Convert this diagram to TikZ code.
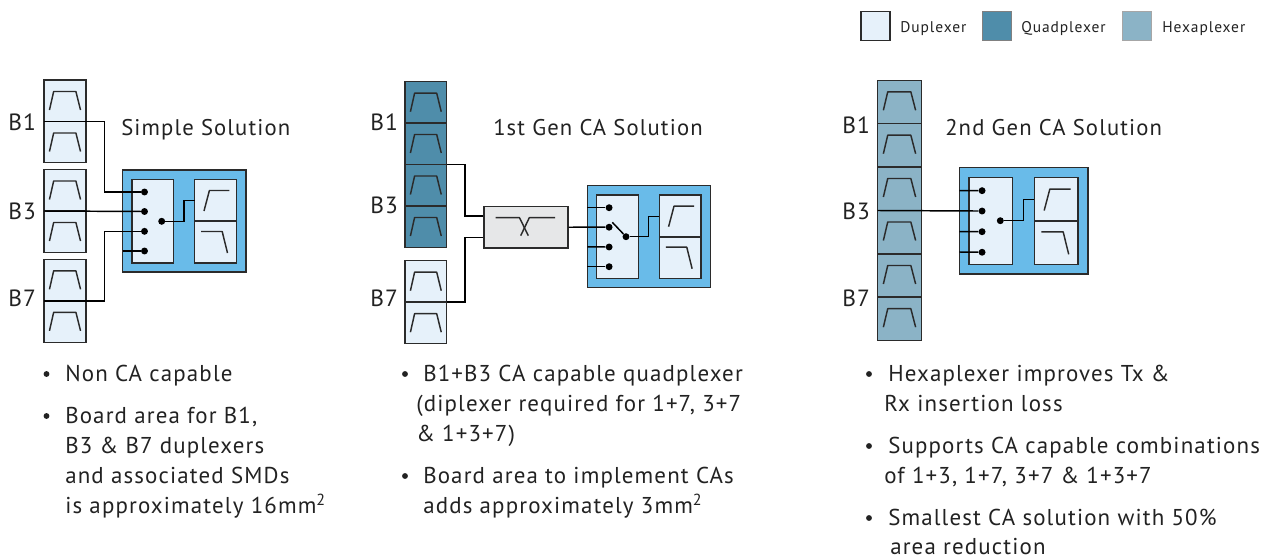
\documentclass[tikz,border=0pt]{standalone}
\usepackage{fontspec}
\setmainfont[LetterSpace=5]{PT Sans}
\newfontfamily\legfont[LetterSpace=6]{PT Sans}
\definecolor{dupfill}{HTML}{E6F1FA}
\definecolor{quadfill}{HTML}{4F8DAA}
\definecolor{hexfill}{HTML}{8BB3C6}
\definecolor{modblue}{HTML}{69BBE9}
\definecolor{dipfill}{HTML}{E6E7E8}
\definecolor{ink}{HTML}{2B2B2B}
\definecolor{txt}{HTML}{222222}
\tikzset{
  boxline/.style={draw=ink,line width=1.1pt},
  wire/.style={draw=black,line width=1.1pt,line join=miter},
  icon/.style={draw=ink,line width=1.1pt,line join=round},
  dotn/.style={circle,fill=black,inner sep=0pt,minimum size=5.2pt},
  lab/.style={anchor=base west,inner sep=0pt,text=txt,font=\fontsize{17.2}{18}\selectfont},
  title/.style={anchor=base west,inner sep=0pt,text=txt,font=\fontsize{17}{18}\selectfont},
  band/.style={anchor=base west,inner sep=0pt,text=txt,font=\fontsize{17.6}{18}\selectfont},
  leg/.style={anchor=base west,inner sep=0pt,text=txt,font=\legfont\fontsize{11.6}{12}\selectfont},
  legbox/.style={draw=ink,line width=0.9pt,inner sep=0pt,minimum width=21.8pt,minimum height=21.8pt},
  bul/.style={circle,fill=txt,inner sep=0pt,minimum size=4.4pt}
}
\newcommand{\bandicon}[3]{% x0 x1 top
  \pgfmathsetmacro{\bandw}{#2-#1}
  \draw[icon] ({#1+0.13*\bandw},{#3+30}) -- ({#1+0.23*\bandw},{#3+11.5}) -- ({#1+0.76*\bandw},{#3+11.5}) -- ({#1+0.87*\bandw},{#3+30});
}
% \filterpair{x0}{x1}{top}{mid}{bottom}{fill}
\newcommand{\filterpair}[6]{%
  \path[fill=#6,boxline] (#1,#3) rectangle (#2,#4);
  \path[fill=#6,boxline] (#1,#4) rectangle (#2,#5);
  \bandicon{#1}{#2}{#3}
  \bandicon{#1}{#2}{#4}
}
% \module{name}{x}{y}{scale}
\newcommand{\module}[4]{%
 \begin{scope}[shift={(#2,#3)},scale=#4]
  \path[fill=modblue,boxline] (0,0) rectangle (123.3,102);
  \path[fill=dupfill,boxline] (9.4,9.4) rectangle (51,92.8);
  \path[fill=dupfill,boxline] (72,9.4) rectangle (113.6,51.2);
  \path[fill=dupfill,boxline] (72,51.2) rectangle (113.6,92.8);
  \draw[icon] (81.3,41) -- (86.7,20.5) -- (106.7,20.5);
  \draw[icon] (78.5,61.5) -- (99.5,61.5) -- (104.8,83);
  \node[dotn] (#1-a) at (21.8,22) {};
  \node[dotn] (#1-b) at (21.8,41.5) {};
  \node[dotn] (#1-c) at (21.8,61.3) {};
  \node[dotn] (#1-d) at (21.8,81) {};
  \coordinate (#1-fin) at (72,30.7);
  \coordinate (#1-jog) at (61.3,30.7);
 \end{scope}
}
\begin{document}
\begin{tikzpicture}[x=0.75pt,y=-0.75pt]
\useasboundingbox (0,0) rectangle (1264,557);
\fill[white] (0,0) rectangle (1264,557);

% legend
\node[legbox,fill=dupfill,anchor=north west] (legd) at (860.3,10.7) {};
\node[legbox,fill=quadfill,draw=gray,anchor=north west] (legq) at (982,10.7) {};
\node[legbox,fill=hexfill,draw=gray!70,anchor=north west] (legh) at (1122,10.7) {};
\node[leg] (tlegd) at (900,32.5) {Duplexer};
\node[leg] (tlegq) at (1021,32.5) {Quadplexer};
\node[leg] (tlegh) at (1162,32.5) {Hexaplexer};

% ---------- panel 1
\filterpair{44}{86}{80}{121.5}{162.7}{dupfill}
\filterpair{44}{86}{169.5}{211}{252.7}{dupfill}
\filterpair{44}{86}{259.3}{300.8}{342.7}{dupfill}
\coordinate (p1b1) at (44,121.5);
\coordinate (p1b3) at (44,211);
\coordinate (p1b7) at (44,300.8);
\coordinate (p1v1) at (104.3,121.5);
\coordinate (p1v7) at (104.3,300.8);
\coordinate (p1s) at (122.7,251);
\module{ma}{122.7}{170}{1}
\node[dotn] (ma-out) at (161.7,221.3) {};
\draw[wire] (p1b1) -- (p1v1) |- (ma-a);
\draw[wire] (p1b3) -- (ma-b);
\draw[wire] (p1b7) -- (p1v7) |- (ma-c);
\draw[wire] (p1s) -- (ma-d);
\draw[wire] (ma-out) -| (ma-jog) -- (ma-fin);
\node[band] (b1a) at (8,130) {B1};
\node[band] (b3a) at (8,219.5) {B3};
\node[band] (b7a) at (8,306) {B7};
\node[title] (t1) at (121,135.7) {Simple Solution};

% ---------- panel 2
\filterpair{405}{446.7}{81.7}{123}{164.5}{quadfill}
\filterpair{405}{446.7}{164.5}{206}{247.5}{quadfill}
\filterpair{405}{446.7}{260.7}{302.2}{343.7}{dupfill}
\node[boxline,fill=dipfill,minimum width=62.8pt,minimum height=31.2pt,inner sep=0pt,anchor=north west] (dip) at (483.3,205.7) {};
\draw[icon] (495.7,217.7) -- (519.5,217.7) -- (528.3,235.7);
\draw[icon] (555,217.7) -- (529.3,217.7) -- (520.7,235.7);
\module{mb}{587.3}{185.7}{1}
\node[dotn] (mb-out) at (626,236.7) {};
\coordinate (p2q) at (446.7,164.5);
\coordinate (p2d) at (446.7,302.2);
\coordinate (p2v1) at (465,164.5);
\coordinate (p2v2) at (465,302.2);
\coordinate (dipi1) at (483.3,216);
\coordinate (dipi2) at (483.3,237.7);
\draw[wire] (p2q) -- (p2v1) |- (dipi1);
\draw[wire] (p2d) -- (p2v2) |- (dipi2);
\draw[wire] (dip.east) -- (mb-b);
\coordinate (mbs1) at (587.3,207.7);
\coordinate (mbs3) at (587.3,246.9);
\coordinate (mbs4) at (587.3,266.7);
\draw[wire] (mbs1) -- (mb-a);
\draw[wire] (mbs3) -- (mb-c);
\draw[wire] (mbs4) -- (mb-d);
\coordinate (sw) at (612.3,222.3);
\draw[wire] (sw) -- (mb-out);
\draw[wire] (mb-out) -| (mb-jog) -- (mb-fin);
\node[band] (b1b) at (370,130) {B1};
\node[band] (b3b) at (370,213) {B3};
\node[band] (b7b) at (370,306) {B7};
\node[title] (t2) at (493,135.7) {1st Gen CA Solution};

% ---------- panel 3
\filterpair{877.7}{921.3}{80.3}{123.7}{167}{hexfill}
\filterpair{877.7}{921.3}{167}{210.5}{254}{hexfill}
\filterpair{877.7}{921.3}{254}{297.2}{340.4}{hexfill}
\module{mc}{959.3}{167.7}{1.044}
\node[dotn] (mc-out) at (1000.3,220.7) {};
\coordinate (p3b3) at (877.7,210.5);
\draw[wire] (p3b3) -- (mc-b);
\coordinate (mcs1) at (959.3,190.7);
\coordinate (mcs3) at (959.3,231.7);
\coordinate (mcs4) at (959.3,252);
\draw[wire] (mcs1) -- (mc-a);
\draw[wire] (mcs3) -- (mc-c);
\draw[wire] (mcs4) -- (mc-d);
\draw[wire] (mc-out) -| (mc-jog) -- (mc-fin);
\node[band] (b1c) at (842,133) {B1};
\node[band] (b3c) at (842,219.5) {B3};
\node[band] (b7c) at (842,306) {B7};
\node[title] (t3) at (945,135.7) {2nd Gen CA Solution};

% ---------- captions
\node[bul] (bu1) at (46.5,374) {};
\node[lab] (l1) at (65,381.5) {Non CA capable};
\node[bul] (bu2) at (46.5,416) {};
\node[lab] (l2) at (65,423.5) {Board area for B1,};
\node[lab] (l3) at (65,453.5) {B3 \& B7 duplexers};
\node[lab] (l4) at (65,483.5) {and associated SMDs};
\node[lab] (l5) at (65,513.5) {is approximately 16mm\textsuperscript{2}};

\node[bul] (bu3) at (405,374) {};
\node[lab] (m1) at (423,381.5) {B1+B3 CA capable quadplexer};
\node[lab] (m2) at (416,411.5) {(diplexer required for 1+7, 3+7};
\node[lab] (m3) at (416,441.5) {\& 1+3+7)};
\node[bul] (bu4) at (405,476) {};
\node[lab] (m4) at (423,483.5) {Board area to implement CAs};
\node[lab] (m5) at (423,513.5) {adds approximately 3mm\textsuperscript{2}};

\node[bul] (bu5) at (869,374) {};
\node[lab] (r1) at (888,381.5) {Hexaplexer improves Tx \&};
\node[lab] (r2) at (884,411.5) {Rx insertion loss};
\node[bul] (bu6) at (869,446) {};
\node[lab] (r3) at (888,453.5) {Supports CA capable combinations};
\node[lab] (r4) at (884,483.5) {of 1+3, 1+7, 3+7 \& 1+3+7};
\node[bul] (bu7) at (869,518) {};
\node[lab] (r5) at (888,525.5) {Smallest CA solution with 50\%};
\node[lab] (r6) at (890,554) {area reduction};
\end{tikzpicture}
\end{document}
